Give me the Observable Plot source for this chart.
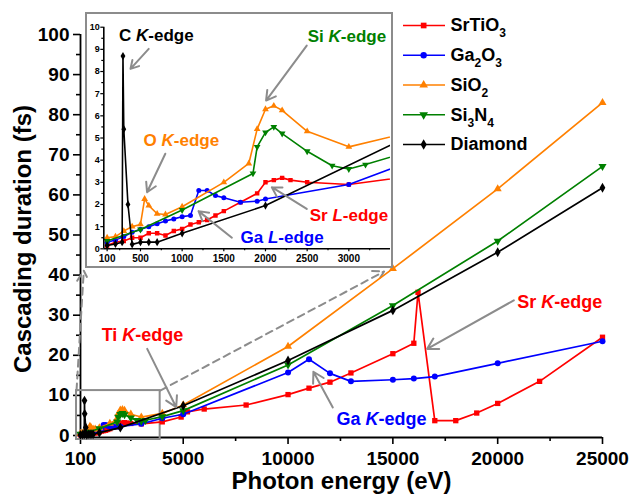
<!DOCTYPE html>
<html><head><meta charset="utf-8">
<script src="https://cdn.jsdelivr.net/npm/d3@7"></script>
<script src="https://cdn.jsdelivr.net/npm/@observablehq/plot@0.6"></script>
<style>
body{margin:0;background:#fff;}
#wrap{position:relative;width:632px;height:499px;overflow:hidden;background:#fff}
#main{position:absolute;left:0;top:0}
#inset{position:absolute;left:85px;top:12px;width:304px;height:252px;border:2px solid #8c8c8c;background:#fff}
#inset svg{display:block}
#legend{position:absolute;left:400px;top:10px}
</style></head><body>
<div id="wrap"><div id="main"></div><div id="inset"></div><div id="legend"></div></div>
<script>
// ---------- data ----------
const seriesNames = ["SrTiO3", "Ga2O3", "SiO2", "Si3N4", "Diamond"];
const seriesColors = ["#ff0000", "#0000ff", "#ff8000", "#008000", "#000000"];

const srtio3Energy = [100,200,300,400,500,600,700,800,900,1000,1100,1200,1300,1400,1500,1700,1900,2000,2100,2200,2300,2500,3000,4000,4900,5000,5200,6000,8000,10000,11000,12000,13000,15000,16000,16200,17000,18000,19000,20000,22000,25000];
const srtio3Time   = [0.15,0.3,0.35,0.5,0.5,0.7,0.7,0.6,0.8,0.9,1.1,1.2,1.3,1.5,1.7,2.1,2.5,3.0,3.1,3.2,3.1,3.0,2.9,3.4,4.6,5.6,5.9,6.6,7.6,10.2,11.8,13.3,15.6,20.4,23.0,35.7,3.7,3.7,5.6,8.0,13.5,24.5];

const ga2o3Energy = [100,200,300,400,500,600,700,800,900,1000,1100,1200,1300,1400,1500,1700,1900,2000,3000,4000,5000,10000,11000,12000,13000,15000,16000,17000,20000,25000];
const ga2o3Time   = [0.3,0.4,0.55,0.75,0.88,1.0,1.13,1.25,1.35,1.45,1.5,2.63,2.63,2.4,2.3,2.1,2.15,2.25,2.9,4.3,5.3,15.7,19.0,15.5,13.5,13.9,14.2,14.7,18.0,23.5];

const sio2Energy = [100,200,300,400,500,550,600,700,800,1000,1500,1800,1900,2000,2100,2200,2500,3000,4000,5000,10000,15000,20000,25000];
const sio2Time   = [0.5,0.55,0.8,1.0,1.1,2.25,1.95,1.58,1.55,1.9,3.0,3.85,5.4,6.3,6.45,6.25,5.3,4.6,5.5,7.6,22.2,41.6,61.5,83.0];

const si3n4Energy = [100,500,1000,1850,1900,2000,2100,2200,2500,2800,3000,3200,4000,5000,10000,15000,20000,25000];
const si3n4Time   = [0.35,0.87,1.75,3.4,4.6,5.25,5.5,5.2,4.4,3.75,3.6,3.8,4.7,6.2,17.6,32.4,48.5,67.1];

const diamondEnergy = [100,200,280,290,300,350,400,500,600,700,1000,2000,5000,10000,15000,20000,25000];
const diamondTime   = [0.15,0.22,0.3,8.7,5.4,2.0,0.2,0.3,0.3,0.3,0.7,1.95,7.4,18.7,31.2,45.7,61.8];

const mainXTicks = [100,5000,10000,15000,20000,25000];
const mainXMinor = [2500,7500,12500,17500,22500];
const mainYTicks = [0,10,20,30,40,50,60,70,80,90,100];
const mainYMinor = [5,15,25,35,45,55,65,75,85,95];
const insetXTicks = [100,500,1000,1500,2000,2500,3000];
const insetXMinor = [250,750,1250,1750,2250,2750,3250];
const insetYTicks = [0,1,2,3,4,5,6,7,8,9,10];
const insetYMinor = [0.5,1.5,2.5,3.5,4.5,5.5,6.5,7.5,8.5,9.5];

// annotations (main plot, data units)
const mainNoteLabels = ["Ti K-edge", "Ga K-edge", "Sr K-edge"];
const mainNoteColors = ["#ff0000", "#0000ff", "#ff0000"];
const mainNoteX = [3057, 14453, 22958];
const mainNoteY = [24.9, 4.0, 33.2];
const mainArrows = [
  {x1: 3282, y1: 21.6, x2: 4665, y2: 7.06},
  {x1: 12135, y1: 7.0, x2: 11210, y2: 15.9},
  {x1: 20769, y1: 33.7, x2: 16638, y2: 21.6}
];
const zoomBox = [{x1: -90, x2: 3900, y1: -1, y2: 11.2}];
const connectors = [
  {x1: -90, y1: 11.2, x2: 257, y2: 41.1},
  {x1: 3900, y1: 11.2, x2: 14580, y2: 40.9}
];
// annotations (inset, data units)
const insetNoteLabels = ["C K-edge", "O K-edge", "Si K-edge", "Sr L-edge", "Ga L-edge"];
const insetNoteColors = ["#000000", "#ff8000", "#008000", "#ff0000", "#0000ff"];
const insetNoteX = [691, 990, 2977, 3001, 2199];
const insetNoteY = [9.63, 4.89, 9.58, 1.5, 0.5];
const insetArrows = [
  {x1: 599, y1: 9.02, x2: 380, y2: 8.12},
  {x1: 798, y1: 4.29, x2: 579, y2: 2.55},
  {x1: 2495, y1: 9.17, x2: 2007, y2: 6.69},
  {x1: 2495, y1: 1.80, x2: 2076, y2: 2.78},
  {x1: 1597, y1: 0.50, x2: 1197, y2: 1.70}
];

// ---------- helpers ----------
const triDown = {draw(ctx, size) {
  const s3 = Math.sqrt(3); const y = -Math.sqrt(size / (s3 * 3));
  ctx.moveTo(0, -y * 2); ctx.lineTo(-s3 * y, y); ctx.lineTo(s3 * y, y); ctx.closePath();
}};
const seriesSymbols = [d3.symbolSquare, d3.symbolCircle, d3.symbolTriangle, triDown, d3.symbolDiamond];
const energies = [srtio3Energy, ga2o3Energy, sio2Energy, si3n4Energy, diamondEnergy];
const times = [srtio3Time, ga2o3Time, sio2Time, si3n4Time, diamondTime];
const series = seriesNames.map((name, i) => ({
  name, color: seriesColors[i], symbol: seriesSymbols[i],
  rows: energies[i].map((e, j) => ({energy: e, time: times[i][j]}))
}));
const GRAY = "#8c8c8c";
const FONT = "font-family:'Liberation Sans',Arial,sans-serif;font-weight:bold;overflow:visible;background:transparent";

function seriesMarks(r, sw, clip) {
  const m = [];
  series.forEach(s => {
    m.push(Plot.line(s.rows, {x: "energy", y: "time", stroke: s.color, strokeWidth: sw, clip}));
    m.push(Plot.dot(s.rows, {x: "energy", y: "time", fill: s.color, symbol: s.symbol, r, clip}));
  });
  return m;
}
function noteMarks(labels, colors, xs, ys, fs) {
  return labels.map((l, i) => Plot.text([l], {x: () => xs[i], y: () => ys[i], fill: colors[i], fontSize: fs}));
}
function styleEdges(svg) {
  d3.select(svg).selectAll("text").each(function() {
    const s = this.textContent; const k = s.indexOf("-edge");
    if (k < 1) return;
    const t = d3.select(this).text(null).style("white-space", "pre");
    t.append("tspan").text(s.slice(0, k - 1));
    t.append("tspan").attr("font-style", "italic").text(s.slice(k - 1, k));
    t.append("tspan").text(s.slice(k));
  });
}
function subscripts(svg) {
  d3.select(svg).selectAll("text").each(function() {
    const s = this.textContent;
    if (!/\d/.test(s)) return;
    const parts = s.match(/\d+|\D+/g);
    const t = d3.select(this).text(null);
    let shift = 0;
    parts.forEach(p => {
      const sub = /\d/.test(p); const target = sub ? 6 : 0;
      const ts = t.append("tspan").attr("dy", target - shift).text(p);
      if (sub) ts.attr("font-size", 12);
      shift = target;
    });
  });
}

// ---------- main plot ----------
const main = Plot.plot({
  width: 632, height: 499,
  marginLeft: 80, marginRight: 30, marginTop: 34, marginBottom: 62,
  style: FONT,
  x: {domain: [100, 25000], axis: null},
  y: {domain: [-0.5, 100], axis: null},
  marks: [
    Plot.axisY(mainYTicks, {tickSize: 7, tickPadding: 4, fontSize: 19, strokeWidth: 1.6, tickFormat: d => String(d), label: null}),
    Plot.axisY(mainYMinor, {tickSize: 4, strokeWidth: 1.6, tickFormat: () => "", label: null}),
    Plot.axisX(mainXTicks, {tickSize: 7, tickPadding: 7, fontSize: 19, strokeWidth: 1.6, tickFormat: d => String(d), label: null}),
    Plot.axisX(mainXMinor, {tickSize: 4, strokeWidth: 1.6, tickFormat: () => "", label: null}),
    Plot.ruleX([100], {strokeWidth: 1.8}),
    Plot.ruleY([-0.5], {strokeWidth: 1.8}),
    Plot.text(["Photon energy (eV)"], {frameAnchor: "bottom", lineAnchor: "middle", textAnchor: "middle", dy: 44, fontSize: 24}),
    Plot.text(["Cascading duration (fs)"], {frameAnchor: "left", rotate: -90, textAnchor: "middle", lineAnchor: "middle", dx: -57, dy: 3, fontSize: 24}),
    Plot.rect(zoomBox, {x1: "x1", x2: "x2", y1: "y1", y2: "y2", fill: "none", stroke: GRAY, strokeWidth: 2}),
    Plot.arrow(connectors, {x1: "x1", y1: "y1", x2: "x2", y2: "y2", stroke: GRAY, strokeWidth: 2, strokeDasharray: "7,5", headLength: 9}),
    ...seriesMarks(3, 1.7, false),
    Plot.arrow(mainArrows, {x1: "x1", y1: "y1", x2: "x2", y2: "y2", stroke: GRAY, strokeWidth: 2, headLength: 9}),
    ...noteMarks(mainNoteLabels, mainNoteColors, mainNoteX, mainNoteY, 18)
  ]
});
styleEdges(main);
document.getElementById("main").appendChild(main);

// ---------- inset ----------
const inset = Plot.plot({
  width: 304, height: 252,
  marginLeft: 16.3, marginRight: 1, marginTop: 12.7, marginBottom: 17.7,
  style: FONT,
  x: {domain: [60, 3500], axis: null},
  y: {domain: [0, 10], axis: null},
  marks: [
    Plot.axisY(insetYTicks, {tickSize: 3, tickPadding: 1, fontSize: 9, strokeWidth: 1.2, tickFormat: d => String(d), label: null}),
    Plot.axisY(insetYMinor, {tickSize: 2, strokeWidth: 1.2, tickFormat: () => "", label: null}),
    Plot.axisX(insetXTicks, {tickSize: 3, tickPadding: 3, fontSize: 10, strokeWidth: 1.2, tickFormat: d => String(d), label: null}),
    Plot.axisX(insetXMinor, {tickSize: 2, strokeWidth: 1.2, tickFormat: () => "", label: null}),
    ...seriesMarks(2.5, 1.6, true),
    Plot.ruleX([60], {strokeWidth: 1.6}),
    Plot.ruleY([0], {strokeWidth: 1.6}),
    Plot.arrow(insetArrows, {x1: "x1", y1: "y1", x2: "x2", y2: "y2", stroke: GRAY, strokeWidth: 2, headLength: 8}),
    ...noteMarks(insetNoteLabels, insetNoteColors, insetNoteX, insetNoteY, 17)
  ]
});
styleEdges(inset);
document.getElementById("inset").appendChild(inset);

// ---------- legend ----------
const legend = Plot.plot({
  width: 230, height: 150, margin: 0,
  style: FONT,
  x: {domain: [0, 1], range: [3, 45], axis: null},
  y: {domain: [0, 4], range: [15, 134], axis: null},
  marks: series.flatMap((s, i) => [
    Plot.ruleY([i], {x1: 0, x2: 1, stroke: s.color, strokeWidth: 1.7}),
    Plot.dot([i], {x: 0.48, y: d => d, fill: s.color, symbol: s.symbol, r: 3.2}),
    Plot.text([s.name], {x: 1, y: () => i, dx: 5, textAnchor: "start", fontSize: 18})
  ])
});
subscripts(legend);
document.getElementById("legend").appendChild(legend);
</script></body></html>
